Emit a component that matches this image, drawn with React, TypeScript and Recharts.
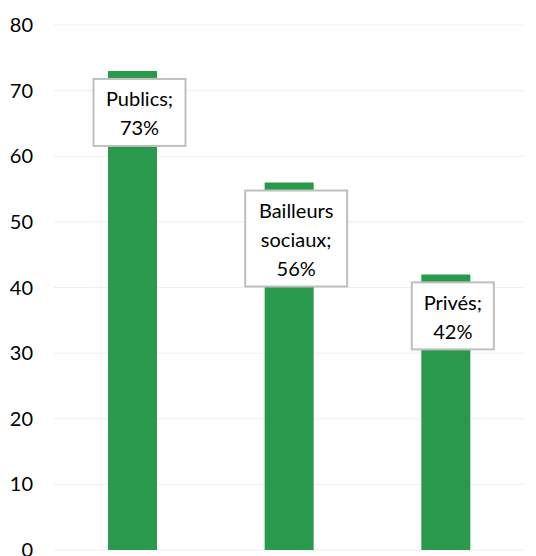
import { BarChart, Bar, XAxis, YAxis, CartesianGrid, LabelList } from "recharts";

const categories = ["Publics", "Bailleurs sociaux", "Privés"];
const shares = [73, 56, 42];
const yTicks = [0, 10, 20, 30, 40, 50, 60, 70, 80];

const data = categories.map((name, i) => ({ name, value: shares[i] }));

const FONT = "Lato, 'Open Sans', sans-serif";

function BoxLabel(props: any) {
  const { x, y, width, index } = props;
  const words = categories[index].split(" ");
  words[words.length - 1] += ";";
  const lines = [...words, `${shares[index]}%`];
  const longest = Math.max(...lines.map((l) => l.length));
  const w = longest * 10 + 12;
  const lineH = 29;
  const h = lines.length * lineH + 9;
  const cx = x + width / 2 + 7;
  const top = y + 8;
  return (
    <g>
      <rect x={cx - w / 2} y={top} width={w} height={h} fill="#ffffff" stroke="#bfbfbf" strokeWidth={2} />
      {lines.map((line, i) => (
        <text
          key={i}
          x={cx}
          y={top + 19.5 + i * lineH}
          textAnchor="middle"
          dominantBaseline="central"
          fontFamily={FONT}
          fontSize={20}
          fill="#000000"
        >
          {line}
        </text>
      ))}
    </g>
  );
}

export default function App() {
  return (
    <div style={{ position: "absolute", left: 0, top: 0, width: 536, height: 556, background: "#fff", overflow: "hidden" }}>
      <BarChart
        width={536}
        height={556}
        data={data}
        margin={{ top: 25, right: 12, bottom: 6, left: 0 }}
        style={{ overflow: "visible" }}
      >
        <CartesianGrid vertical={false} stroke="#efefef" />
        <XAxis dataKey="name" hide />
        <YAxis
          domain={[0, 80]}
          ticks={yTicks}
          interval={0}
          width={54}
          axisLine={false}
          tickLine={false}
          tickSize={0}
          tickMargin={21}
          tick={{ fill: "#000000", fontSize: 20, fontFamily: FONT }}
        />
        <Bar dataKey="value" fill="#299a4b" barSize={49} isAnimationActive={false}>
          <LabelList dataKey="value" content={BoxLabel} />
        </Bar>
      </BarChart>
    </div>
  );
}
